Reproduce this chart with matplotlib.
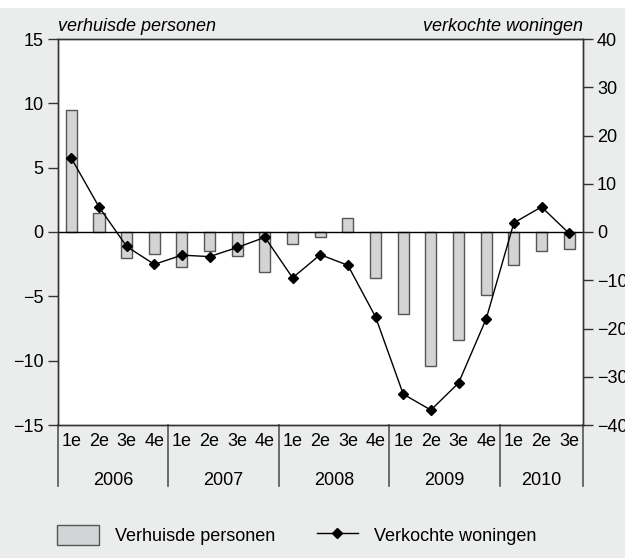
import numpy as np
import matplotlib
matplotlib.use('Agg')
from matplotlib import pyplot as plt
from matplotlib.patches import Rectangle

plt.rcParams['font.family'] = ['Liberation Sans', 'DejaVu Sans']

# data
years = ['2006', '2007', '2008', '2009', '2010']
quarters = ['1e', '2e', '3e', '4e'] * 4 + ['1e', '2e', '3e']
verhuisde = [9.5, 1.5, -2.0, -1.7,
             -2.7, -1.5, -1.9, -3.1,
             -0.9, -0.4, 1.1, -3.6,
             -6.4, -10.4, -8.4, -4.9,
             -2.6, -1.5, -1.3]
verkochte = [15.3, 5.2, -3.0, -6.7,
             -4.8, -5.1, -3.2, -1.1,
             -9.5, -4.7, -6.9, -17.6,
             -33.6, -36.9, -31.3, -18.0,
             1.9, 5.2, -0.3]

bg = '#ebecec'
fs = 13

fig = plt.figure(figsize=(6.25, 5.58), dpi=100, facecolor=bg)
fig.add_artist(Rectangle((0, 1 - 8 / 558), 1, 8 / 558, transform=fig.transFigure,
                         facecolor='white', edgecolor='none'))
ax = fig.add_axes([57.5 / 625, 1 - 425 / 558, (583 - 57.5) / 625, (425 - 39) / 558])
ax.set_facecolor('white')

x = np.arange(len(verhuisde))
b = ax.bar(x, verhuisde, width=0.4, color='#d3d4d6', edgecolor='#555555', linewidth=1,
           zorder=2, label='Verhuisde personen')
ax.axhline(0, color='black', lw=1, zorder=3)
ax.set_xlim(-0.5, len(x) - 0.5)
ax.set_ylim(-15, 15)
ax.set_yticks([-15, -10, -5, 0, 5, 10, 15])
ax.set_xticks([])
ax.tick_params(axis='y', labelsize=fs, length=7, width=1, color='#333333', pad=3)

ax2 = ax.twinx()
ln, = ax2.plot(x, verkochte, color='black', lw=1, marker='D', markersize=5,
               label='Verkochte woningen', zorder=4)
ax2.set_ylim(-40, 40)
ax2.set_yticks(np.arange(-40, 41, 10))
ax2.tick_params(axis='y', labelsize=fs, length=7, width=1, color='#333333', pad=3)

for a in (ax, ax2):
    for s in a.spines.values():
        s.set_color('#333333')
        s.set_linewidth(1)

# category labels under the plot
trans = ax.get_xaxis_transform()
for i, q in enumerate(quarters):
    ax.text(i, -0.044, q, transform=trans, ha='center', va='center', fontsize=fs)
for k, yr in enumerate(years):
    start = 4 * k
    end = min(4 * k + 3, len(x) - 1)
    ax.text((start + end) / 2, -0.143, yr, transform=trans, ha='center', va='center', fontsize=fs)
for sep in [-0.5, 3.5, 7.5, 11.5, 15.5, len(x) - 0.5]:
    ax.plot([sep, sep], [0, -0.158], transform=trans, color='#555555', lw=1.2, clip_on=False)

# axis titles
ax.text(0, 1.01, 'verhuisde personen', transform=ax.transAxes, ha='left', va='bottom',
        fontsize=fs, style='italic')
ax.text(1, 1.01, 'verkochte woningen', transform=ax.transAxes, ha='right', va='bottom',
        fontsize=fs, style='italic')

fig.legend([b, ln], ['Verhuisde personen', 'Verkochte woningen'], ncol=2, frameon=False,
           loc='center left', bbox_to_anchor=(57 / 625, 1 - 535 / 558), fontsize=fs,
           handlelength=2.3, handleheight=1.3, handletextpad=0.9, columnspacing=2.3,
           borderpad=0, borderaxespad=0)

plt.savefig('out.png', dpi=100, facecolor=bg)
